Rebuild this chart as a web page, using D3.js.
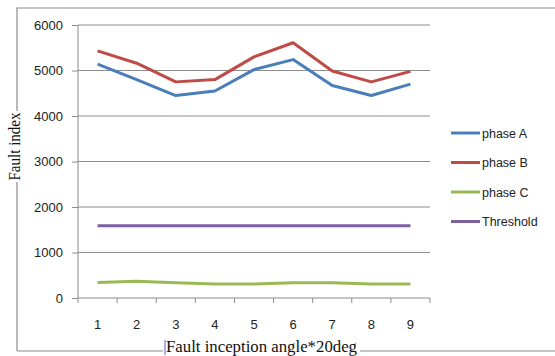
<!DOCTYPE html>
<html><head><meta charset="utf-8">
<script src="https://cdn.jsdelivr.net/npm/d3@7"></script>
<style>body{margin:0;background:#fff}</style>
</head><body>
<svg id="c" width="555" height="356"></svg>
<script>
const categories = [1,2,3,4,5,6,7,8,9];
const phaseA = [5140, 4800, 4450, 4550, 5020, 5240, 4670, 4450, 4700];
const phaseB = [5430, 5160, 4750, 4800, 5300, 5610, 4990, 4750, 4980];
const phaseC = [340, 370, 335, 310, 310, 335, 335, 310, 310];
const threshold = [1590, 1590, 1590, 1590, 1590, 1590, 1590, 1590, 1590];
const yTicks = [0, 1000, 2000, 3000, 4000, 5000, 6000];
const seriesNames = ["phase A", "phase B", "phase C", "Threshold"];
const colors = ["#4a7ebb", "#be4b48", "#98b954", "#7d60a0"];
const seriesData = [phaseA, phaseB, phaseC, threshold];

const svg = d3.select("#c");
const L = 78, R = 430, T = 25, B = 298;
const x = d3.scaleBand().domain(categories).range([L, R]);
const y = d3.scaleLinear().domain([0, 6000]).range([B, T]);

// outer frame
svg.append("path").attr("d", "M17,351 L17,8 L555,8").attr("fill","none").attr("stroke","#8c8c8c").attr("stroke-width",1.2);
svg.append("line").attr("x1",17).attr("x2",163).attr("y1",351).attr("y2",351).attr("stroke","#8c8c8c").attr("stroke-width",1.2);
svg.append("line").attr("x1",360).attr("x2",555).attr("y1",351).attr("y2",351).attr("stroke","#8c8c8c").attr("stroke-width",1.2);

// gridlines
svg.append("g").selectAll("line").data(yTicks.filter(d=>d>0)).join("line")
  .attr("x1", L).attr("x2", R).attr("y1", d=>y(d)).attr("y2", d=>y(d))
  .attr("stroke", "#8c8c8c").attr("stroke-width", 1);

// y axis
const ya = svg.append("g").attr("transform", `translate(${L},0)`)
  .call(d3.axisLeft(y).tickValues(yTicks).tickSize(6).tickPadding(9).tickFormat(d3.format("d")));
ya.select(".domain").attr("stroke","#8c8c8c").attr("d", `M0,${T}V${B}`);
ya.selectAll(".tick line").attr("stroke","#8c8c8c");
ya.selectAll("text").attr("font-family","Liberation Sans, Arial, sans-serif").attr("font-size",13).attr("fill","#222");

// x axis
const xa = svg.append("g").attr("transform", `translate(0,${B})`)
  .call(d3.axisBottom(x).tickSize(0).tickPadding(22));
xa.select(".domain").attr("stroke","#8c8c8c").attr("d", `M${L},0H${R}`);
xa.selectAll("text").attr("font-family","Liberation Sans, Arial, sans-serif").attr("font-size",13).attr("fill","#222");
const bounds = [...categories.map(c=>x(c)), R];
svg.append("g").selectAll("line").data(bounds).join("line")
  .attr("x1", d=>d).attr("x2", d=>d).attr("y1", B).attr("y2", B+5).attr("stroke","#8c8c8c");

// lines
const line = d3.line().x((d,i)=>x(categories[i]) + x.bandwidth()/2).y(d=>y(d));
seriesData.forEach((s, k) => {
  svg.append("path").datum(s).attr("d", line).attr("fill","none")
    .attr("stroke", colors[k]).attr("stroke-width", 3).attr("stroke-linejoin","round");
});

// legend
const lg = svg.append("g");
seriesNames.forEach((n, k) => {
  const yy = 133 + k * 29.5;
  lg.append("line").attr("x1", 451).attr("x2", 480).attr("y1", yy).attr("y2", yy).attr("stroke", colors[k]).attr("stroke-width", 3);
  lg.append("text").attr("x", 482).attr("y", yy + 4.5).text(n)
    .attr("font-family","Liberation Sans, Arial, sans-serif").attr("font-size",12.5).attr("fill","#222");
});

// axis titles
svg.append("rect").attr("x",6).attr("y",111).attr("width",18).attr("height",71).attr("fill","#fff");
svg.append("text").attr("transform","translate(20,146.5) rotate(-90)").attr("text-anchor","middle")
  .attr("font-family","Liberation Serif, Times New Roman, serif").attr("font-size",16).attr("fill","#111")
  .attr("textLength",68).attr("lengthAdjust","spacingAndGlyphs").text("Fault index");
svg.append("line").attr("x1",165).attr("x2",165).attr("y1",340).attr("y2",355).attr("stroke","#6a5acd").attr("stroke-width",1);
svg.append("text").attr("x",166).attr("y",352)
  .attr("font-family","Liberation Serif, Times New Roman, serif").attr("font-size",16).attr("fill","#111")
  .attr("textLength",191).attr("lengthAdjust","spacingAndGlyphs").text("Fault inception angle*20deg");
</script>
</body></html>
